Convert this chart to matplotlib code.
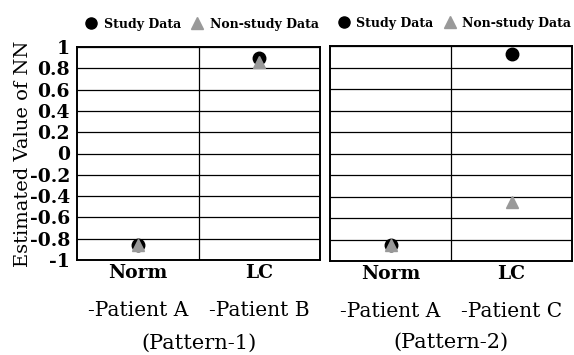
import matplotlib
matplotlib.use('Agg')
import matplotlib.pyplot as plt
from matplotlib.lines import Line2D
import matplotlib.transforms as mtransforms

# categories and estimated NN values per pattern
categories = ['Norm', 'LC']
patients_p1 = ['-Patient A', '-Patient B']
patients_p2 = ['-Patient A', '-Patient C']
study_p1 = [-0.86, 0.90]
nonstudy_p1 = [-0.86, 0.86]
study_p2 = [-0.85, 0.93]
nonstudy_p2 = [-0.85, -0.45]
yticks = [1, 0.8, 0.6, 0.4, 0.2, 0, -0.2, -0.4, -0.6, -0.8, -1]
ytick_labels = ['1', '0.8', '0.6', '0.4', '0.2', '0', '-0.2', '-0.4', '-0.6', '-0.8', '-1']

serif = 'DejaVu Serif'
study_color = 'black'
nonstudy_color = '#999999'

fig = plt.figure(figsize=(5.74, 3.55), dpi=100)
W, H = 574, 355


def add_panel(left, top, right, bottom):
    return fig.add_axes([left / W, (H - bottom) / H, (right - left) / W, (bottom - top) / H])


def draw_panel(ax, study, nonstudy, patients, title, show_y, title_y):
    x = list(range(1, len(categories) + 1))
    ax.plot(x, study, 'o', color=study_color, ms=9, zorder=3)
    ax.plot(x, nonstudy, '^', color=nonstudy_color, ms=9, zorder=4)
    ax.set_xlim(0.5, 2.5)
    ax.set_ylim(-1, 1)
    ax.set_yticks(yticks)
    for y in yticks:
        ax.axhline(y, color='black', lw=0.9, zorder=1)
    ax.axvline(1.5, color='black', lw=0.9, zorder=1)
    ax.set_xticks(x)
    ax.set_xticklabels(categories, fontsize=13.5, fontweight='bold', family=serif)
    ax.tick_params(length=0, pad=3)
    if show_y:
        ax.set_yticklabels(ytick_labels, fontsize=13.5, fontweight='bold', family=serif)
        ax.tick_params(axis='y', pad=5)
        ax.set_ylabel('Estimated Value of NN', fontsize=14, family=serif)
        ax.yaxis.set_label_coords(-0.185, 0.5)
    else:
        ax.set_yticklabels([])
    for s in ax.spines.values():
        s.set_linewidth(1.4)
    trans = mtransforms.blended_transform_factory(ax.transData, ax.transAxes)
    for xi, p in zip(x, patients):
        ax.text(xi, -0.235, p, transform=trans, ha='center', va='center',
                fontsize=14.5, family=serif)
    ax.text(0.5, title_y, title, transform=ax.transAxes, ha='center', va='center',
            fontsize=15, family=serif)
    handles = [
        Line2D([], [], marker='o', ls='', color=study_color, ms=8),
        Line2D([], [], marker='^', ls='', color=nonstudy_color, ms=8),
    ]
    ax.legend(handles, ['Study Data', 'Non-study Data'], loc='lower center',
              bbox_to_anchor=(0.5, 1.0), ncol=2, frameon=False,
              prop={'family': serif, 'weight': 'bold', 'size': 9},
              handletextpad=0.0, columnspacing=0.3, borderaxespad=0.9)


ax1 = add_panel(77, 47, 320, 260)
draw_panel(ax1, study_p1, nonstudy_p1, patients_p1, '(Pattern-1)', True, -0.39)
ax2 = add_panel(330, 46, 572, 261)
draw_panel(ax2, study_p2, nonstudy_p2, patients_p2, '(Pattern-2)', False, -0.38)

fig.savefig('out.png', dpi=100)
